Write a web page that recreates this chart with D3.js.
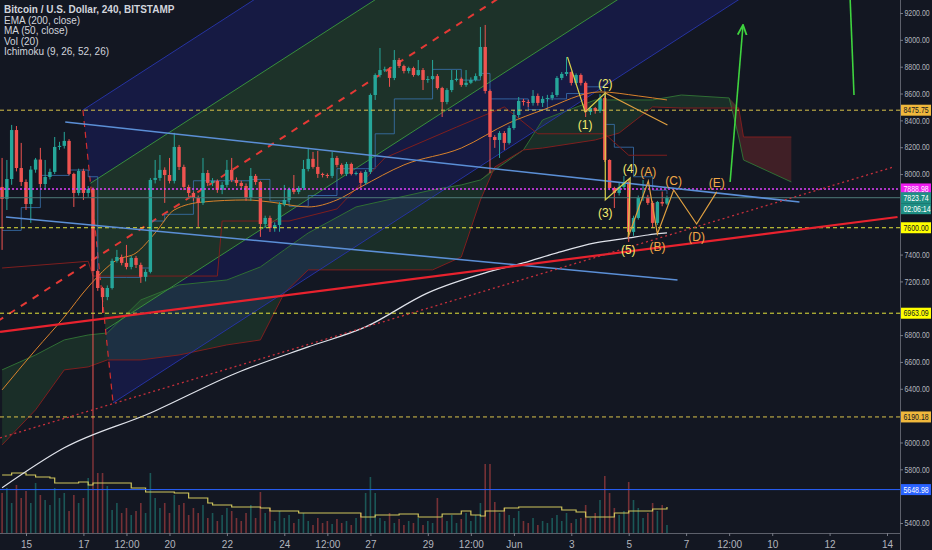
<!DOCTYPE html>
<html>
<head>
<meta charset="utf-8">
<script src="https://cdnjs.cloudflare.com/ajax/libs/d3/7.8.5/d3.min.js"></script>
<style>
html, body { margin: 0; padding: 0; background: #131722; overflow: hidden; }
svg { display: block; font-family: "Liberation Sans", Arial, sans-serif; }
</style>
</head>
<body>
<div id="chart"></div>
<script>
const W = 932, H = 550, plotW = 900, plotH = 533;

// ---- data ----
const firstCandle = new Date(2019, 4, 14, 4); // 4h bars
// [open, high, low, close]
const candles = [
  [7904,8120,7435,7815],[7815,8105,7732,7963],[7963,8366,7920,8328],[8328,8358,8020,8045],[8045,8232,7911,7941],
  [7941,7960,7732,7777],[7777,8060,7636,8033],[8033,8120,8010,8108],[8108,8195,7900,7926],[7926,8105,7890,7978],
  [7978,8040,7960,8016],[8016,8276,8000,8202],[8202,8240,8180,8210],[8210,8314,8190,8247],[8247,8260,7990,8001],
  [8001,8010,7755,7859],[7859,8040,7840,8023],[8023,8040,7807,7859],[7859,7910,7830,7889],[7889,7900,6178,7278],
  [7278,7290,7130,7151],[7151,7160,6965,7084],[7084,7170,7060,7151],[7151,7370,7140,7353],[7353,7435,7340,7382],
  [7382,7400,7320,7338],[7338,7472,7290,7308],[7308,7390,7290,7375],[7375,7390,7300,7323],[7323,7340,7189,7234],
  [7234,7290,7200,7271],[7271,7970,7260,7956],[7956,8105,7930,7971],[7971,8142,7950,8031],[8031,8050,7785,7993],
  [7993,8120,7930,7949],[7949,8307,7930,8202],[8202,8217,8030,8053],[8053,8070,7880,7904],[7904,7920,7830,7859],
  [7859,7870,7800,7822],[7822,7840,7606,7785],[7785,8120,7770,8008],[8008,8030,7910,7934],[7934,7970,7910,7949],
  [7949,7960,7860,7882],[7882,7940,7850,7919],[7919,8105,7900,8031],[8031,8120,7940,7956],[7956,7975,7910,7934],
  [7934,7950,7890,7911],[7911,7930,7800,7822],[7822,8045,7800,7986],[7986,8000,7920,7941],[7941,7950,7532,7628],
  [7628,7690,7600,7673],[7673,7690,7569,7599],[7599,7640,7570,7620],[7620,7790,7570,7774],[7774,7919,7760,7807],
  [7807,7900,7790,7889],[7889,7993,7850,7867],[7867,7910,7850,7896],[7896,8105,7880,8038],[8038,8195,8020,8113],
  [8113,8165,8040,8053],[8053,8172,7971,8001],[8001,8010,7975,7993],[7993,8005,7970,7986],[7986,8165,7970,8120],
  [8120,8135,8050,8068],[8068,8080,7990,8001],[8001,8090,7985,8075],[8075,8085,7990,8001],[8001,8020,7990,8008],
  [8008,8020,7897,7934],[7934,8030,7920,8016],[8016,8600,8000,8589],[8589,8750,8552,8738],[8738,8939,8720,8775],
  [8775,8800,8760,8780],[8780,8795,8650,8716],[8716,8924,8700,8850],[8850,8865,8790,8805],[8805,8815,8750,8768],
  [8768,8800,8750,8790],[8790,8800,8725,8738],[8738,8850,8730,8775],[8775,8790,8626,8701],[8701,8730,8680,8708],
  [8708,8850,8700,8730],[8730,8745,8630,8641],[8641,8650,8425,8537],[8537,8640,8520,8626],[8626,8775,8610,8701],
  [8701,8775,8690,8710],[8710,8720,8650,8664],[8664,8775,8650,8680],[8680,8720,8670,8701],[8701,8750,8690,8730],
  [8730,9096,8720,8947],[8947,9111,8600,8619],[8619,8630,8008,8276],[8276,8290,8195,8254],[8254,8320,8120,8306],
  [8306,8320,8180,8232],[8232,8360,8220,8343],[8343,8477,8330,8440],[8440,8574,8420,8545],[8545,8560,8510,8537],
  [8537,8552,8500,8530],[8530,8626,8510,8582],[8582,8600,8510,8530],[8530,8580,8500,8560],[8560,8590,8540,8567],
  [8567,8610,8550,8589],[8589,8730,8575,8716],[8716,8760,8700,8746],[8746,8872,8730,8760],[8760,8765,8660,8679],
  [8679,8750,8665,8738],[8738,8750,8660,8679],[8679,8690,8425,8463],[8463,8505,8440,8492],[8492,8500,8450,8470],
  [8470,8596,8455,8567],[8567,8580,8090,8105],[8105,8110,7880,7896],[7896,7905,7747,7859],[7859,7941,7840,7904],
  [7904,7986,7890,7941],[7941,7960,7494,7569],[7569,7690,7540,7673],[7673,7840,7660,7822],[7822,7956,7800,7830],
  [7830,7845,7770,7785],[7785,7800,7599,7636],[7636,7800,7620,7792],[7792,7870,7760,7780],[7780,7840,7770,7823.74]
];
const volumes = [
  4000,4500,3000,4800,3500,4200,3000,5000,3800,3300,
  2800,4500,3500,4000,2200,3800,3000,3500,5500,11500,
  6000,6000,4700,2300,3000,2000,2500,1800,2200,3000,2000,
  6000,
  3500,2500,3000,2000,3800,2800,3000,1800,2500,2000,2800,1500,2000,1200,1800,2500,2200,1500,1200,2000,2800,1500,
  4100,
  2000,2500,1200,2200,1500,1800,1000,1400,2000,1200,800,1500,1000,1200,900,1400,1000,1200,800,1500,2000,
  4000,5600,4000,
  1500,1200,2000,1000,1400,800,1200,1000,1500,800,1200,1000,
  3500,
  1500,1200,1800,1000,1400,2000,1200,1800,
  3000,6900,6900,
  3100,2000,2500,1800,1500,2200,1200,1000,1500,800,1200,1000,1500,1800,1200,2000,1000,1400,
  1500,2800,1500,2000,3300,5700,4000,2500,1800,2200,5100,3300,2500,1500,2000,3000,2200,2800,800
];
// indicator lines as [bar index, value]
const volMA = [[0,5800],[2,6000],[5,5800],[7,5600],[10,5500],[11,5000],[16,5100],[18,4800],[19,5000],[23,5000],
  [27,4500],[30,4100],[36,4000],[39,3500],[43,3000],[44,2800],[48,2600],[54,2500],[56,2200],[62,2000],[71,2000],
  [75,1600],[78,1800],[83,1900],[87,1600],[92,1900],[96,2200],[98,1800],[100,1700],[101,2200],[105,2500],[108,2600],
  [117,2300],[120,2100],[122,1600],[126,1600],[128,2000],[131,2200],[136,2400],[139,2600]];
const ema200 = [[0,5662],[13,5960],[31,6220],[49,6518],[64,6712],[76,6861],[89,7115],[101,7264],[109,7338],
  [116,7413],[124,7487],[131,7524],[135,7546],[139,7561]];
const ma50 = [[0,6392],[7,6690],[13,6935],[18,7159],[24,7360],[28,7412],[32,7561],[36,7733],[42,7792],[51,7807],
  [56,7792],[64,7755],[70,7807],[75,7904],[84,8068],[96,8194],[106,8381],[113,8477],[125,8612],[133,8582],[139,8552]];
const tenkan = [[0,7580],[4,7750],[8,7990],[14,8030],[18,7980],[20,7230],[26,7230],[29,7300],[31,7650],[34,7700],
  [40,7950],[46,7950],[52,7960],[56,7800],[60,7760],[64,7840],[70,8040],[76,8040],[78,8300],[82,8560],[90,8780],
  [96,8700],[100,8750],[102,8560],[106,8560],[110,8480],[114,8560],[118,8600],[122,8650],[126,8370],[128,8200],
  [132,7980],[136,7880],[139,7850]];
const kijun = [[0,7300],[18,7350],[19,7240],[45,7240],[46,7650],[60,7650],[70,7740],[80,8120],[95,8350],
  [105,8500],[112,8300],[126,8300],[131,8140],[139,8140]];
const cloudIdx = [0,7,13,18,22,29,37,47,54,59,64,74,90,96,100,103,109,113,124,129,136,142,152,154,155,165];
const spanA = [6541,6652,6764,6801,6816,7062,7174,7211,7308,7435,7561,7755,7882,7919,7956,8031,8180,8403,8552,8552,8552,8589,8567,8276,8105,7941];
const spanB = [5982,6243,6541,6563,6615,6615,6652,6727,6764,7114,7286,7286,7286,7382,7807,8053,8180,8194,8254,8306,8500,8492,8492,8492,8276,8276];

// drawings
const pitchTop = [16.9, 8477], pitchBottom = [23.2, 6295];
const pitchSlope = 22.97;               // price per bar
const pitchInner = [0.25, 0.75], pitchOuter = [0, 1];
const upperTrend = [[13.2,8388],[166.7,7792]];
const lowerTrend = [[0.8,7680],[141.2,7211]];
const redTrend = [[-0.43,6824],[187.2,7680]];
const redDotted = [[-0.43,6034],[186.4,8053]];
const levelPrices = [8475.75, 7888.98, 7600.00, 6963.09, 6190.18, 5648.98];
const waveImpulse = [[118.2,8872],[121.9,8463],[126.1,8604],[126.1,7807],[131.3,7971],[130.9,7531]];
const waveABC = [[130.9,7531],[135.1,7948],[137.0,7554],[140.4,7881],[145.2,7628],[149.4,7867]];
const waveSide = [[126.1,8604],[139.1,8366]];
const impulseLabels = [["(1)",121.9,8463,1],["(2)",126.1,8604,-1],["(3)",126.1,7807,1],["(4)",131.3,7971,-1],["(5)",130.9,7531,1]];
const abcLabels = [["(A)",135.1,7948,-1],["(B)",137.0,7554,1],["(C)",140.4,7881,-1],["(D)",145.2,7628,1],["(E)",149.4,7867,-1]];
const greenArrow = [[152.2,7941],[154.9,9111]];
const greenLine = [[177.3,9297],[178.1,8589]];
const countdown = "02:06:14";
const priceTicks = [5400,5600,5800,6000,6200,6400,6600,6800,7000,7200,7400,7600,7800,8000,8200,8400,8600,8800,9000,9200];
const timeTicks = [
  [new Date(2019,4,15), "15"], [new Date(2019,4,17), "17"], [new Date(2019,4,18,12), "12:00"],
  [new Date(2019,4,20), "20"], [new Date(2019,4,22), "22"], [new Date(2019,4,24), "24"],
  [new Date(2019,4,25,12), "12:00"], [new Date(2019,4,27), "27"], [new Date(2019,4,29), "29"],
  [new Date(2019,4,30,12), "12:00"], [new Date(2019,5,1), "Jun"], [new Date(2019,5,3), "3"],
  [new Date(2019,5,5), "5"], [new Date(2019,5,7), "7"], [new Date(2019,5,8,12), "12:00"],
  [new Date(2019,5,10), "10"], [new Date(2019,5,12), "12"], [new Date(2019,5,14), "14"]
];
const legend = ["Bitcoin / U.S. Dollar, 240, BITSTAMP", "EMA (200, close)", "MA (50, close)", "Vol (20)", "Ichimoku (9, 26, 52, 26)"];

// ---- styles ----
const upCol = "#26a69a", downCol = "#ef5350";
const levelStyle = [
  { stroke: "#d9c24a", dash: "4,3", bg: "#f0b83c", fg: "#131722" },
  { stroke: "#e040fb", dash: "2,2", bg: "#f01cf0", fg: "#ffffff", w: 1.5 },
  { stroke: "#e4e43a", dash: "4,3", bg: "#ffff00", fg: "#131722" },
  { stroke: "#e4e43a", dash: "4,3", bg: "#ffff00", fg: "#131722" },
  { stroke: "#d9c24a", dash: "4,3", bg: "#f0b83c", fg: "#131722" },
  { stroke: "#2962ff", dash: null, bg: "#2962ff", fg: "#ffffff" }
];
const axisFont = 8.5, axisSquash = 0.82;   // narrow price-scale digits

// ---- scales ----
const bar = i => new Date(+firstCandle + i * 4 * 3600e3);
const x = d3.scaleTime()
  .domain([new Date(2019, 4, 14, 2, 15), new Date(2019, 5, 14, 10, 52)])
  .range([0, plotW]);
const y = d3.scaleLinear().domain([5400, 9200]).range([523, 13]);
const vy = d3.scaleLinear().domain([0, 10000]).range([plotH, plotH - 100]);
const px = d => x(bar(d[0])), py = d => y(d[1]);
const line = d3.line().x(px).y(py);

const svg = d3.select("#chart").append("svg").attr("width", W).attr("height", H);
svg.append("rect").attr("width", W).attr("height", H).attr("fill", "#131722");
svg.append("clipPath").attr("id", "plot").append("rect").attr("width", plotW).attr("height", plotH);
const g = svg.append("g").attr("clip-path", "url(#plot)");

// ---- pitchfork ----
const basePt = f => [pitchTop[0] + f * (pitchBottom[0] - pitchTop[0]), pitchTop[1] + f * (pitchBottom[1] - pitchTop[1])];
const forkLine = (f, from) => {
  const p = basePt(f), i0 = from === undefined ? p[0] : from, i1 = 220;
  return [[i0, p[1] + (i0 - p[0]) * pitchSlope], [i1, p[1] + (i1 - p[0]) * pitchSlope]];
};
const band = (f1, f2, fill) => {
  const a = forkLine(f1), b = forkLine(f2);
  g.append("path").attr("d", line([a[0], a[1], b[1], b[0]]) + "Z").attr("fill", fill);
};
band(pitchOuter[0], pitchInner[0], "rgba(35,40,210,0.19)");
band(pitchInner[0], pitchInner[1], "rgba(76,175,80,0.18)");
band(pitchInner[1], pitchOuter[1], "rgba(35,40,210,0.19)");

// ---- ichimoku cloud ----
const cloud = cloudIdx.map((i, k) => ({ i, a: spanA[k], b: spanB[k] }));
g.append("path").datum(cloud)
  .attr("d", d3.area().x(d => x(bar(d.i))).y0(d => y(d.b)).y1(d => y(Math.max(d.a, d.b))))
  .attr("fill", "rgba(67,160,71,0.17)");
g.append("path").datum(cloud)
  .attr("d", d3.area().x(d => x(bar(d.i))).y0(d => y(d.a)).y1(d => y(Math.max(d.a, d.b))))
  .attr("fill", "rgba(244,67,54,0.2)");
g.append("path").datum(cloud.map(d => [d.i, d.a])).attr("d", line).attr("fill", "none").attr("stroke", "#2f6e34").attr("stroke-width", 1);
g.append("path").datum(cloud.map(d => [d.i, d.b])).attr("d", line).attr("fill", "none").attr("stroke", "#7e1e1e").attr("stroke-width", 1);

// pitchfork lines
[pitchOuter[0], pitchOuter[1]].forEach(f => g.append("path").attr("d", line(forkLine(f))).attr("stroke", "#2633a0").attr("stroke-width", 1));
[pitchInner[0], pitchInner[1]].forEach(f => g.append("path").attr("d", line(forkLine(f))).attr("stroke", "#388e3c").attr("stroke-width", 1));
g.append("path").attr("d", line([basePt(0), basePt(1)])).attr("stroke", "#d32f2f").attr("stroke-width", 1.2).attr("stroke-dasharray", "6,5");
g.append("path").attr("d", line(forkLine(0.5, -1))).attr("stroke", "#e53935").attr("stroke-width", 2).attr("stroke-dasharray", "7,7");

// ichimoku lines
g.append("path").datum(tenkan).attr("d", d3.line().x(px).y(py).curve(d3.curveStepAfter))
  .attr("fill", "none").attr("stroke", "#3f7fc4").attr("stroke-width", 1).attr("opacity", 0.7);
g.append("path").datum(kijun).attr("d", line).attr("fill", "none").attr("stroke", "#7e1e1e").attr("stroke-width", 1);

// ---- volume ----
g.selectAll(".vol").data(candles).join("rect")
  .attr("x", (d, i) => x(bar(i)) - 0.8)
  .attr("width", 1.6)
  .attr("y", (d, i) => vy(volumes[i]))
  .attr("height", (d, i) => plotH - vy(volumes[i]))
  .attr("fill", d => d[3] >= d[0] ? upCol : downCol)
  .attr("opacity", 0.45);
g.append("path").datum(volMA)
  .attr("d", d3.line().x(px).y(d => vy(d[1])).curve(d3.curveStepAfter))
  .attr("fill", "none").attr("stroke", "#cfc55c").attr("stroke-width", 1.2);

// ---- moving averages ----
g.append("path").datum(ma50).attr("d", d3.line().x(px).y(py).curve(d3.curveMonotoneX))
  .attr("fill", "none").attr("stroke", "#d9822b").attr("stroke-width", 1);
g.append("path").datum(ema200).attr("d", d3.line().x(px).y(py).curve(d3.curveMonotoneX))
  .attr("fill", "none").attr("stroke", "#e0e3eb").attr("stroke-width", 1.2);

// ---- candles ----
const cg = g.selectAll(".c").data(candles).join("g");
cg.append("line")
  .attr("x1", (d, i) => x(bar(i))).attr("x2", (d, i) => x(bar(i)))
  .attr("y1", d => y(d[1])).attr("y2", d => y(d[2]))
  .attr("stroke", d => d[3] >= d[0] ? upCol : downCol).attr("stroke-width", 1);
cg.append("rect")
  .attr("x", (d, i) => x(bar(i)) - 1.7).attr("width", 3.4)
  .attr("y", d => y(Math.max(d[0], d[3])))
  .attr("height", d => Math.max(1, Math.abs(y(d[0]) - y(d[3]))))
  .attr("fill", d => d[3] >= d[0] ? upCol : downCol);

// ---- horizontal levels ----
const lastClose = candles[candles.length - 1][3];
g.append("line").attr("x1", 0).attr("x2", plotW).attr("y1", y(lastClose)).attr("y2", y(lastClose))
  .attr("stroke", "#4e7a78").attr("stroke-width", 1);
levelPrices.forEach((p, k) => {
  const s = levelStyle[k];
  g.append("line").attr("x1", 0).attr("x2", plotW).attr("y1", y(p)).attr("y2", y(p))
    .attr("stroke", s.stroke).attr("stroke-width", s.w || 1).attr("stroke-dasharray", s.dash);
});

// ---- trend lines ----
g.append("path").attr("d", line(upperTrend)).attr("stroke", "#5b8fd6").attr("stroke-width", 1.6);
g.append("path").attr("d", line(lowerTrend)).attr("stroke", "#5b8fd6").attr("stroke-width", 1.6);
g.append("path").attr("d", line(redTrend)).attr("stroke", "#e8222e").attr("stroke-width", 2.2);
g.append("path").attr("d", line(redDotted)).attr("stroke", "#c8303c").attr("stroke-width", 1.3).attr("stroke-dasharray", "2,3");

// ---- elliott wave annotations ----
g.append("path").datum(waveImpulse).attr("d", line).attr("fill", "none").attr("stroke", "#d8cf4a").attr("stroke-width", 1.2);
g.append("path").datum(waveABC).attr("d", line).attr("fill", "none").attr("stroke", "#e0a040").attr("stroke-width", 1.2);
g.append("path").datum(waveSide).attr("d", line).attr("fill", "none").attr("stroke", "#e0a040").attr("stroke-width", 1.2);
const waveText = (labels, col) => g.selectAll(null).data(labels).join("text")
  .attr("x", d => x(bar(d[1])))
  .attr("y", d => y(d[2]) + (d[3] > 0 ? 17 : -5))
  .attr("text-anchor", "middle").attr("font-size", 12).attr("fill", col)
  .text(d => d[0]);
waveText(impulseLabels, "#f3ec6e");
waveText(abcLabels, "#f0a848");

// green arrows
svg.append("defs").append("marker").attr("id", "ah").attr("viewBox", "0 0 10 10")
  .attr("refX", 9).attr("refY", 5).attr("markerWidth", 7).attr("markerHeight", 7).attr("orient", "auto")
  .append("path").attr("d", "M0,1 L9,5 L0,9").attr("fill", "none").attr("stroke", "#3fd43f").attr("stroke-width", 1.6);
g.append("path").attr("d", line(greenArrow)).attr("stroke", "#3fd43f").attr("stroke-width", 1.6).attr("marker-end", "url(#ah)");
g.append("path").attr("d", line(greenLine)).attr("stroke", "#3fd43f").attr("stroke-width", 1.6);

// ---- axes ----
svg.append("line").attr("x1", plotW + 0.5).attr("x2", plotW + 0.5).attr("y1", 0).attr("y2", H).attr("stroke", "#5d606b");
svg.append("line").attr("x1", 0).attr("x2", plotW).attr("y1", plotH + 0.5).attr("y2", plotH + 0.5).attr("stroke", "#5d606b");
const tagPrices = levelPrices.concat([lastClose, lastClose - 80]);
const yAxis = svg.append("g").attr("transform", `translate(${plotW},0)`)
  .call(d3.axisRight(y).tickValues(priceTicks.filter(p => tagPrices.every(q => Math.abs(y(p) - y(q)) > 10)))
    .tickSize(3).tickFormat(d3.format(".2f")));
yAxis.select(".domain").remove();
yAxis.selectAll("line").attr("stroke", "#787b86");
yAxis.selectAll("text").attr("fill", "#b2b5be").attr("font-size", axisFont)
  .attr("x", 4.5 / axisSquash).attr("transform", `scale(${axisSquash},1)`)
  .attr("font-family", "'Liberation Sans', Arial, sans-serif");
const xAxis = svg.append("g").attr("transform", `translate(0,${plotH})`)
  .call(d3.axisBottom(x).tickValues(timeTicks.map(d => d[0])).tickSize(3)
    .tickFormat((d, i) => timeTicks[i][1]));
xAxis.select(".domain").remove();
xAxis.selectAll("line").attr("stroke", "#787b86");
xAxis.selectAll("text").attr("fill", "#b2b5be").attr("font-size", 10).attr("dy", "0.9em")
  .attr("font-family", "'Liberation Sans', Arial, sans-serif");

// price labels on the axis
const tag = (p, text, bg, fg, dy) => {
  const yy = y(p) + (dy || 0);
  svg.append("rect").attr("x", plotW + 1).attr("y", yy - 5.5).attr("width", 30).attr("height", 11).attr("fill", bg);
  svg.append("text").attr("transform", `translate(${plotW + 3.5},${yy + 3}) scale(${axisSquash},1)`)
    .attr("font-size", axisFont).attr("fill", fg).text(text);
};
levelPrices.forEach((p, k) => tag(p, d3.format(".2f")(p), levelStyle[k].bg, levelStyle[k].fg));
tag(lastClose, d3.format(".2f")(lastClose), "#1f8f84", "#ffffff");
tag(lastClose, countdown, "#1f8f84", "#ffffff", 11);

// legend
svg.selectAll(".leg").data(legend).join("text")
  .attr("x", 4).attr("y", (d, i) => 13 + i * 10.6)
  .attr("font-size", 10).attr("fill", "#d1d4dc")
  .attr("font-weight", (d, i) => i === 0 ? 600 : 400)
  .text(d => d);
</script>
</body>
</html>
